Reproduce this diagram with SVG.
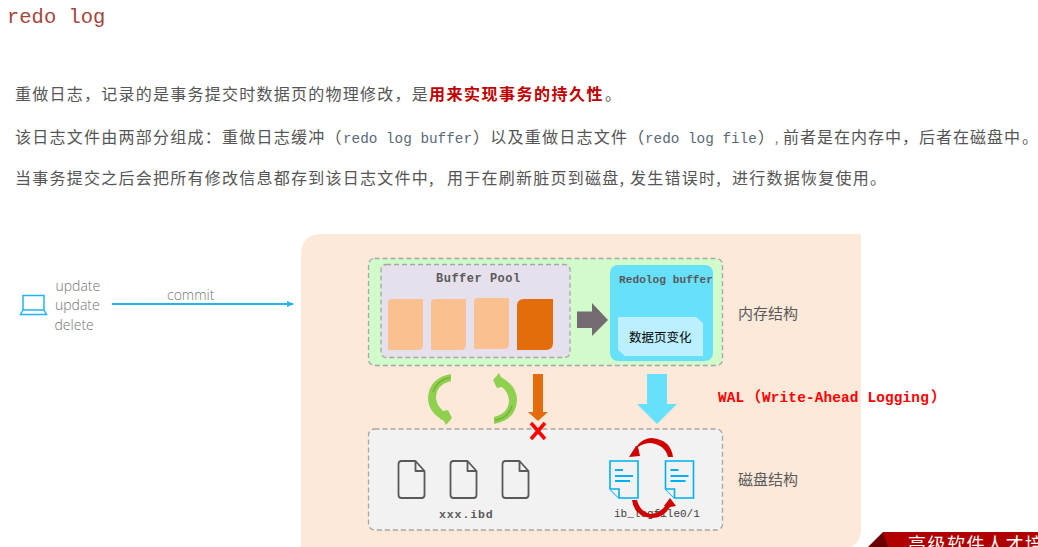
<svg xmlns="http://www.w3.org/2000/svg" width="1038" height="547" viewBox="0 0 1038 547">
<style>
text{white-space:pre}
.b{font:16px "Noto Sans CJK SC",sans-serif;fill:#555;letter-spacing:1.25px}
.e{letter-spacing:0}
.c{font:14.330px "Liberation Mono",monospace;fill:#5a6a78}
.r{font:bold 16px "Noto Sans CJK SC",sans-serif;fill:#c00000;letter-spacing:1.500px}
.m{font-family:"Liberation Mono",monospace;font-weight:bold;fill:#595959}
.l{font:14px "Open Sans",sans-serif;font-weight:300;fill:#737373}
.z{font:15px "Noto Sans CJK SC",sans-serif;fill:#595959}
.d{stroke:#a6a6a6;stroke-width:1.3;stroke-dasharray:5 3}
.p{fill:#fbc08f}
.f{fill:none;stroke:#595959;stroke-width:1.800;stroke-linejoin:round}
.t{fill:#f2f2f2;stroke:#00b0f0;stroke-width:1.600}
.i{fill:none;stroke:#00b0f0;stroke-width:1.800}
.g{fill:#8fd14f}
.a{fill:#d00000}
</style>
<defs>
<marker id="blue" markerWidth="8" markerHeight="8" refX="6" refY="3" orient="auto" markerUnits="userSpaceOnUse"><path d="M0 0L7 3L0 6Z" fill="#1fb5f0"/></marker>
<symbol id="file" overflow="visible"><path class="f" d="M2 0H17L26 10V34Q26 37 23 37H3Q0 37 0 34V3Q0 0 3 0ZM17 0V10H26"/></symbol>
<symbol id="log" overflow="visible"><path class="t" d="M0 0H28V37H9L0 28Z"/><path class="t" d="M0 28H9V37"/><path class="i" d="M5 9H13M5 15H23M5 20H20"/></symbol>
</defs>
<rect width="1038" height="547" fill="#fff"/>

<g id="intro-text">
<text x="7" y="23" style="font:20.500px 'Liberation Mono',monospace;fill:#a5453c">redo log</text>
<text y="100"><tspan class="b" x="15">重做日志，记录的是事务提交时数据页的物理修改，是</tspan><tspan class="r" x="429">用来实现事务的持久性</tspan><tspan class="b" x="605">。</tspan></text>
<text y="143"><tspan class="b" x="15">该日志文件由两部分组成：重做日志缓冲（</tspan><tspan class="c" x="343">redo log buffer</tspan><tspan class="b" x="473">）以及重做日志文件（</tspan><tspan class="c" x="645">redo log file</tspan><tspan class="b" x="758">）</tspan><tspan class="b e" x="775" style="font-size:11px">,</tspan><tspan class="b" x="783" style="letter-spacing:1px">前者是在内存中，后者在磁盘中</tspan><tspan class="b e" x="1022">。</tspan></text>
<text y="184"><tspan class="b" x="15">当事务提交之后会把所有修改信息都存到该日志文件中,</tspan><tspan class="b" x="447">用于在刷新脏页到磁盘,</tspan><tspan class="b" x="630">发生错误时,</tspan><tspan class="b" x="732">进行数据恢复使用</tspan><tspan class="b" x="870">。</tspan></text>
</g>

<path id="panel" d="M322 234H861V529Q861 548 842 548H301V255Q301 234 322 234Z" fill="#fde9da"/>

<g id="client">
<path d="M23 295.500H44V310H23ZM23 310L20.500 314.500H46.500L44 310" fill="none" stroke="#1fb5f0" stroke-width="1.500"/>
<text class="l" x="55.500" y="291">update</text>
<text class="l" x="55" y="310">update</text>
<text class="l" x="54.500" y="330">delete</text>
</g>

<text id="commit" class="l" x="167" y="300">commit</text>

<g id="memory">
<rect class="d" x="368.500" y="258.500" width="354" height="107" rx="6" fill="#d1fbcb"/>
<text class="z" x="738" y="319">内存结构</text>
</g>

<g id="buffer-pool">
<rect class="d" x="381" y="264.500" width="189" height="93" rx="5" fill="#e5e0ec"/>
<text class="m" x="436" y="282" font-size="12" letter-spacing=".5">Buffer Pool</text>
<path class="p" d="M392 299H423V345Q423 350 418 350H388V303Q388 299 392 299Z"/>
<path class="p" d="M435 299H466V345Q466 350 461 350H431V303Q431 299 435 299Z"/>
<path class="p" d="M478 298H509V344Q509 349 504 349H474V302Q474 298 478 298Z"/>
<path d="M524 299H553V343Q553 350 546 350H517V306Q517 299 524 299Z" fill="#e46c0a"/>
</g>

<g id="redolog-buffer">
<rect x="610" y="265" width="103" height="96" rx="8" fill="#67e0fb"/>
<text class="m" x="619" y="283" font-size="11.200">Redolog buffer</text>
<path d="M618 317H696L703 323V356H625L618 350Z" fill="#bcefff"/>
<text x="629" y="342" style="font:12.500px 'Noto Sans CJK SC',sans-serif;fill:#000">数据页变化</text>
</g>

<g id="wal-label">
<text y="402" style="font:bold 14.400px 'Liberation Mono',monospace;fill:#f00;letter-spacing:.15px"><tspan x="718">WAL</tspan><tspan x="746" style="font-family:'Noto Sans CJK SC',sans-serif;font-size:15px">（</tspan><tspan x="762">Write-Ahead Logging</tspan><tspan x="931" style="font-family:'Noto Sans CJK SC',sans-serif;font-size:15px">）</tspan></text>
</g>

<g id="disk">
<rect class="d" x="368.500" y="429" width="354" height="101" rx="6" fill="#f2f2f2"/>
<text class="z" x="738" y="485">磁盘结构</text>
</g>

<g id="data-files">
<use href="#file" x="398.500" y="461"/>
<use href="#file" x="450.500" y="461"/>
<use href="#file" x="502.500" y="461"/>
<text class="m" x="439" y="518" font-size="11.500" letter-spacing=".9">xxx.ibd</text>
</g>

<g id="log-files">
<use href="#log" x="610" y="461"/>
<use href="#log" x="665.500" y="461"/>
<text class="m" x="614" y="517" font-size="11" style="font-weight:normal;fill:#404040">ib_logfile0/1</text>
</g>

<g id="connectors">
<path d="M112 304H293" stroke="#1fb5f0" stroke-width="2" marker-end="url(#blue)"/>
<path d="M577 311.500H592V303L608 320L592 336V328H577Z" fill="#736b71"/>
<path d="M533 374H543V412H548L538 421L528 412H533Z" fill="#e46c0a"/>
<path d="M647 374H667V404H677L657 424L637 404H647Z" fill="#67e0fb"/>
<path id="green-left" class="g" d="M451 374V381Q436 385 436 398Q437 406 443 411L448 410L452 418L446 425L444 421Q428 412 428 398Q429 378 451 374Z"/>
<path d="M450 377.500Q437 380 433 392" fill="none" stroke="#6fa83a" stroke-width="1.500" opacity=".8"/>
<path id="green-right" class="g" transform="rotate(180 472.500 399)" d="M451 374V381Q436 385 436 398Q437 406 443 411L448 410L452 418L446 425L444 421Q428 412 428 398Q429 378 451 374Z"/>
<path d="M495 420.500Q508 418 512 406" fill="none" stroke="#6fa83a" stroke-width="1.500" opacity=".8"/>
<path d="M531 423L545 439M545 423L531 439" stroke="#ff0000" stroke-width="3.500" fill="none"/>
<path class="a" d="M673 457H668Q665 445 651 443Q644 443 638 447L640 456L629 457L636 446L637 446Q643 438 652 438Q671 440 673 457Z"/>
<path class="a" d="M632 500H637Q640 512 651 514Q660 513 665 506L664 506L670 498L676 506L670 507Q664 518 651 518Q634 516 632 500Z"/>
</g>

<g id="banner">
<rect x="883" y="532" width="155" height="15" fill="#b00000"/>
<path d="M868 547L883 532L888 547Z" fill="#6b0000"/>
<text x="908" y="551" style="font:18px 'Noto Sans CJK SC',sans-serif;fill:#fff;letter-spacing:1.500px">高级软件人才培</text>
</g>
</svg>
